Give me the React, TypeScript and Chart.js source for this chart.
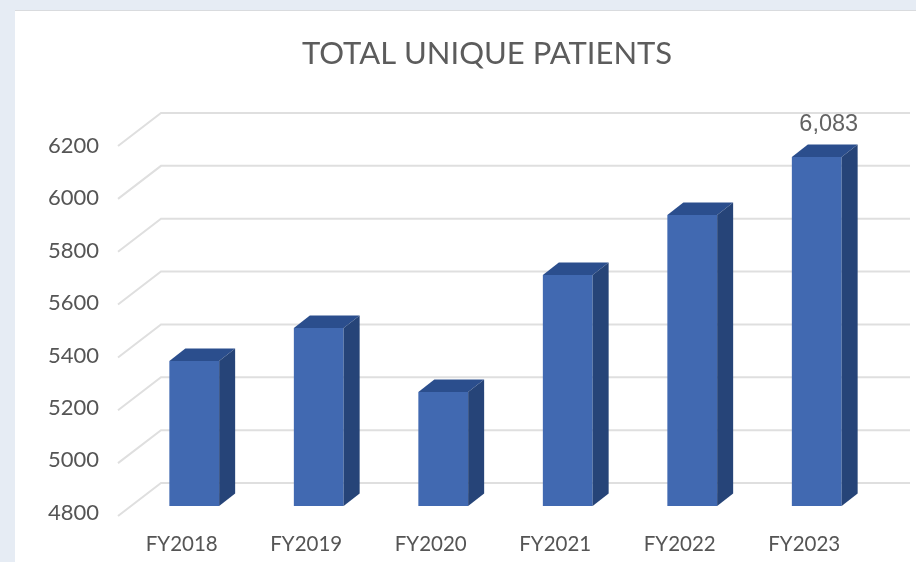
import React, { useEffect, useRef } from "react";
import { Chart, registerables } from "chart.js";

Chart.register(...registerables);

const categories = ["FY2018", "FY2019", "FY2020", "FY2021", "FY2022", "FY2023"];
const patients = [5333, 5454, 5219, 5649, 5870, 6083];
const barLabels = ["", "", "", "", "", "6,083"];
const tickValues = [4800, 5000, 5200, 5400, 5600, 5800, 6000, 6200];

const WALL = { dx: 43, dy: -33, left: 118, right: 910 };
const DEPTH = { dx: 16, dy: -12.5 };

const threeD = {
  id: "threeD",
  beforeDatasetsDraw(chart: any) {
    const { ctx } = chart;
    const grid = chart.scales.yGrid;
    ctx.save();
    ctx.strokeStyle = "#dfdfdf";
    ctx.lineWidth = 2;
    tickValues.forEach((v) => {
      const y = grid.getPixelForValue(v);
      ctx.beginPath();
      ctx.moveTo(WALL.left, y);
      ctx.lineTo(WALL.left + WALL.dx, y + WALL.dy);
      ctx.lineTo(WALL.right, y + WALL.dy);
      ctx.stroke();
    });
    ctx.restore();
  },
  afterDatasetsDraw(chart: any) {
    const { ctx } = chart;
    const meta = chart.getDatasetMeta(0);
    ctx.save();
    meta.data.forEach((bar: any, i: number) => {
      const half = bar.width / 2;
      const l = bar.x - half;
      const r = bar.x + half;
      const t = bar.y;
      const b = bar.base;
      ctx.fillStyle = "#2b4e8d";
      ctx.beginPath();
      ctx.moveTo(l, t);
      ctx.lineTo(l + DEPTH.dx, t + DEPTH.dy);
      ctx.lineTo(r + DEPTH.dx, t + DEPTH.dy);
      ctx.lineTo(r, t);
      ctx.closePath();
      ctx.fill();
      ctx.fillStyle = "#264478";
      ctx.beginPath();
      ctx.moveTo(r, t);
      ctx.lineTo(r + DEPTH.dx, t + DEPTH.dy);
      ctx.lineTo(r + DEPTH.dx, b + DEPTH.dy);
      ctx.lineTo(r, b);
      ctx.closePath();
      ctx.fill();
      if (barLabels[i]) {
        ctx.fillStyle = "#636363";
        ctx.font = '23.5px "Liberation Sans"';
        ctx.textAlign = "center";
        ctx.textBaseline = "middle";
        ctx.fillText(barLabels[i], bar.x + 12, t - 33);
      }
    });
    ctx.restore();
  },
};

export default function App() {
  const ref = useRef<HTMLCanvasElement>(null);
  useEffect(() => {
    const chart = new Chart(ref.current as HTMLCanvasElement, {
      type: "bar",
      data: {
        labels: categories,
        datasets: [
          {
            data: patients,
            yAxisID: "yBars",
            base: 4800,
            backgroundColor: "#4169b1",
            borderWidth: 0,
            barPercentage: 0.4,
            categoryPercentage: 1,
          },
        ],
      },
      plugins: [threeD],
      options: {
        responsive: false,
        animation: false,
        layout: { padding: { left: 95, right: 37, top: 0, bottom: 0 } },
        plugins: {
          legend: { display: false },
          tooltip: { enabled: false },
          title: {
            display: true,
            text: "TOTAL UNIQUE PATIENTS",
            color: "#5c5c5c",
            font: { family: "Lato", size: 31, weight: "normal", lineHeight: 1.2 },
            padding: { top: 35, bottom: 73.8 },
          },
        },
        scales: {
          x: {
            axis: "x",
            grid: { display: false },
            border: { display: false },
            afterFit: (s: any) => { s.height = 46; },
            ticks: {
              color: "#555555",
              font: { family: "Lato", size: 20.5 },
              labelOffset: -12.5,
              padding: 8,
              maxRotation: 0,
              autoSkip: false,
            },
          },
          y: {
            axis: "y",
            position: "left",
            min: 4787.4,
            max: 6200,
            grid: { display: false },
            border: { display: false },
            afterFit: (s: any) => { s.width = 37; },
            afterBuildTicks: (s: any) => { s.ticks = tickValues.map((value) => ({ value })); },
            ticks: {
              color: "#555555",
              font: { family: "Lato", size: 22 },
              mirror: true,
              padding: -84,
              callback: (v: any) => String(v),
            },
          },
          yGrid: { axis: "y", type: "linear", display: false, min: 4800, max: 6200 },
          yBars: { axis: "y", type: "linear", display: false, min: 4763.2, max: 6123.5 },
        },
      },
    } as any);
    return () => chart.destroy();
  }, []);
  return (
    <div style={{ position: "fixed", inset: 0, background: "#e6ecf4", overflow: "hidden" }}>
      <div style={{ position: "absolute", left: 15, top: 10, right: 0, bottom: 0, background: "#fff", borderTop: "1px solid #d9dbde" }} />
      <canvas
        ref={ref}
        width={916}
        height={562}
        style={{ position: "absolute", left: 0, top: 0, width: 916, height: 562, filter: "blur(0.7px)" }}
      />
    </div>
  );
}
